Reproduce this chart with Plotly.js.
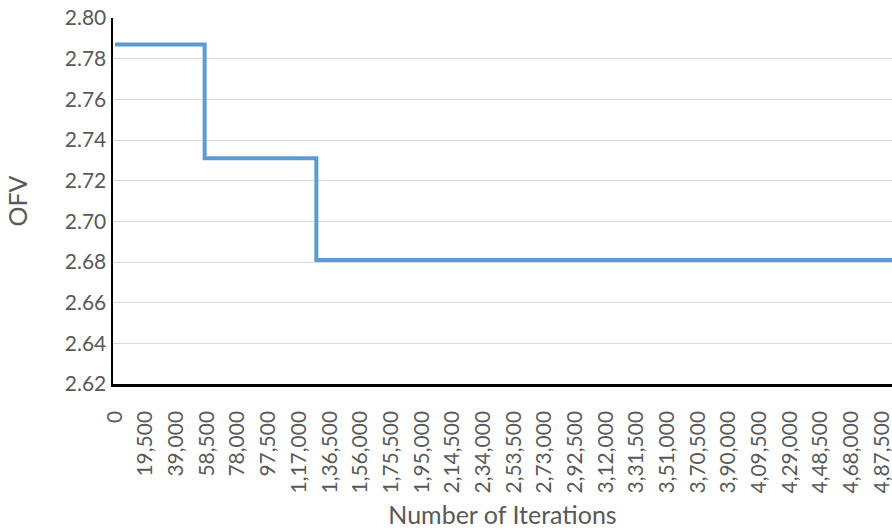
<!DOCTYPE html>
<html>
<head>
<meta charset="utf-8">
<script src="https://cdn.plot.ly/plotly-3.0.1.min.js"></script>
<style>html,body{margin:0;padding:0;background:#fff;}#chart{width:892px;height:530px;}</style>
</head>
<body>
<div id="chart"></div>
<script>
// Iterations at which the objective function value (OFV) changes, and the final iteration
const iterations = [0, 57000, 128000, 494000];
const ofv = [2.787, 2.731, 2.681, 2.681];

// Category tick labels shown on the x axis (Indian digit grouping)
const tickValues = [0, 19500, 39000, 58500, 78000, 97500, 117000, 136500, 156000, 175500,
  195000, 214500, 234000, 253500, 273000, 292500, 312000, 331500, 351000, 370500,
  390000, 409500, 429000, 448500, 468000, 487500];
const tickLabels = ["0", "19,500", "39,000", "58,500", "78,000", "97,500", "1,17,000", "1,36,500",
  "1,56,000", "1,75,500", "1,95,000", "2,14,500", "2,34,000", "2,53,500", "2,73,000", "2,92,500",
  "3,12,000", "3,31,500", "3,51,000", "3,70,500", "3,90,000", "4,09,500", "4,29,000", "4,48,500",
  "4,68,000", "4,87,500"];

const yTicks = [2.62, 2.64, 2.66, 2.68, 2.70, 2.72, 2.74, 2.76, 2.78, 2.80];

const tickFont = {family: "Lato, 'Open Sans', sans-serif", size: 21, color: "#595959"};
const titleFont = {family: "Lato, 'Open Sans', sans-serif", size: 25, color: "#595959"};

Plotly.newPlot("chart", [{
  x: iterations,
  y: ofv,
  type: "scatter",
  mode: "lines",
  line: {shape: "hv", color: "#5b9bd5", width: 4},
  hoverinfo: "x+y"
}], {
  width: 892, height: 530,
  margin: {l: 113, r: 0, t: 18, b: 146},
  paper_bgcolor: "#fff", plot_bgcolor: "#fff",
  showlegend: false,
  font: tickFont,
  xaxis: {
    range: [-1270, 494000],
    tickvals: tickValues,
    ticktext: tickLabels,
    tickangle: -90,
    ticks: "",
    ticklabelstandoff: 16,
    ticklabeloverflow: "allow",
    showgrid: false,
    zeroline: false,
    showline: true, linecolor: "#000", linewidth: 2.5,
    tickfont: tickFont,
    automargin: false,
    title: {text: "Number of Iterations", font: titleFont, standoff: 14}
  },
  yaxis: {
    range: [2.62, 2.80],
    tickvals: yTicks,
    tickformat: ".2f",
    ticks: "",
    showgrid: true, gridcolor: "#d9d9d9", gridwidth: 1,
    zeroline: false,
    showline: true, linecolor: "#000", linewidth: 2.5,
    tickfont: tickFont,
    automargin: false,
    title: {text: "OFV", font: titleFont, standoff: 30}
  }
}, {displayModeBar: false, staticPlot: true});
</script>
</body>
</html>
